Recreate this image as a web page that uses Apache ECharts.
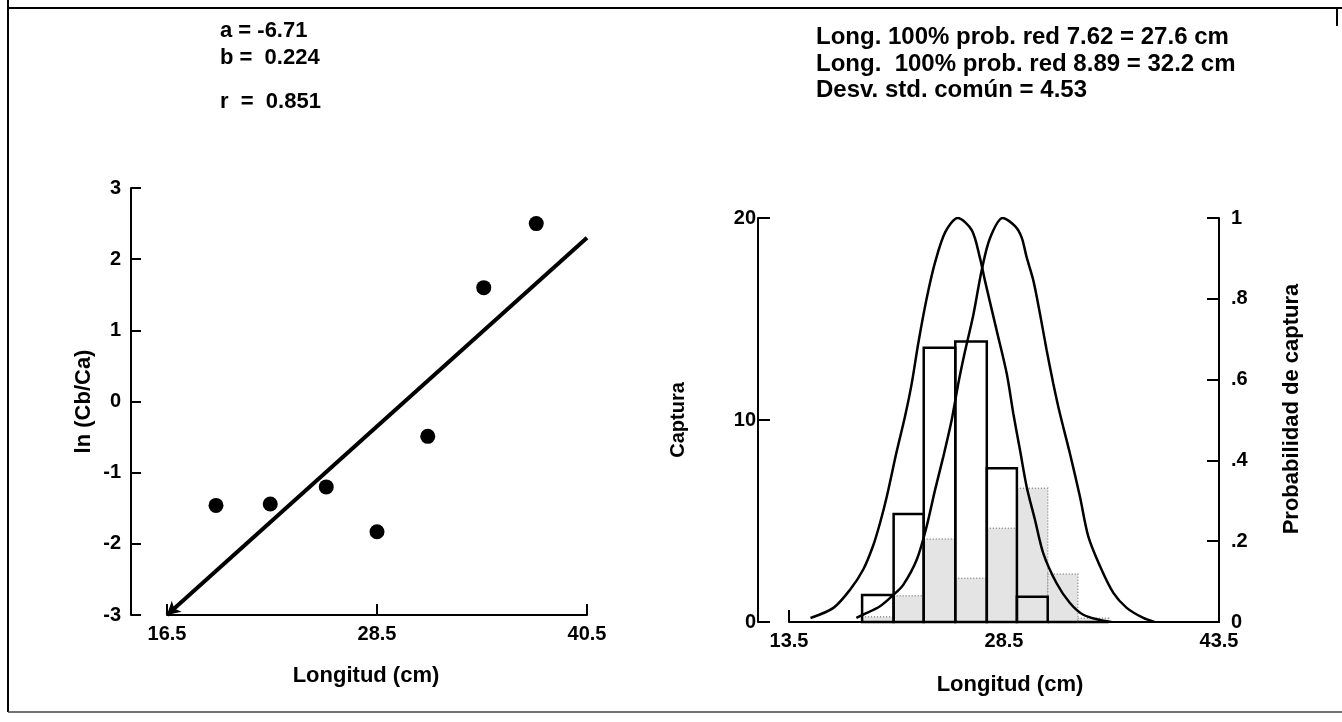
<!DOCTYPE html>
<html>
<head>
<meta charset="utf-8">
<script src="https://cdn.jsdelivr.net/npm/echarts@6.0.0/dist/echarts.min.js"></script>
<style>
  html, body { margin: 0; padding: 0; background: #fff; }
  #chart { width: 1342px; height: 722px; }
</style>
</head>
<body>
<div id="chart"></div>
<script>
// ---- datos panel izquierdo: ln(Cb/Ca) vs longitud ----
var lnLong = [19.3, 22.4, 25.6, 28.5, 31.4, 34.6, 37.6];
var lnRatio = [-1.46, -1.44, -1.2, -1.83, -0.49, 1.6, 2.5];
// recta ajustada, extremos
var fitLong = [16.5, 40.5];
var fitRatio = [-3.0, 2.3];
var leftTicks = [16.5, 28.5, 40.5];

// ---- datos panel derecho: captura por clase de talla ----
var binEdges = [18.6, 20.8, 22.9, 25.1, 27.3, 29.4, 31.55, 33.65, 35.8];
var catch762 = [1.34, 5.35, 13.58, 13.88, 7.61, 1.25, 0, 0];
var catch889 = [0.26, 1.3, 4.11, 2.16, 4.64, 6.62, 2.38, 0.18];
var rightTicks = [13.5, 28.5, 43.5];

// curvas de selectividad (probabilidad de captura)
var sel762x = [15.0, 16.6, 17.76, 18.68, 19.38, 19.85, 20.32, 21.0, 21.6, 22.06, 22.52, 23.1, 23.69, 24.4, 25.27,
               26.25, 26.83, 27.17, 28.0, 28.69, 29.15, 29.62, 30.08, 30.66, 31.24, 32.17, 33.1, 34.03, 35.2, 36.0];
var sel762y = [0.01, 0.035, 0.08, 0.13, 0.19, 0.245, 0.31, 0.42, 0.51, 0.59, 0.69, 0.8, 0.89, 0.965, 1.0,
               0.97, 0.9, 0.845, 0.72, 0.615, 0.516, 0.425, 0.335, 0.253, 0.17, 0.096, 0.047, 0.018, 0.005, 0];
var sel889x = [18.2, 18.68, 19.85, 20.78, 21.47, 22.41, 23.1, 23.69, 24.27, 24.85, 25.31, 25.78, 26.36, 26.94, 27.52, 28.41,
               29.27, 29.73, 30.08, 30.55, 31.01, 31.48, 31.94, 32.4, 33.1, 33.8, 34.38, 35.2, 36.13, 37.06, 38.22, 39.0];
var sel889y = [0.01, 0.018, 0.039, 0.067, 0.092, 0.154, 0.236, 0.327, 0.41, 0.5, 0.59, 0.67, 0.76, 0.87, 0.95, 1.0,
               0.98, 0.952, 0.903, 0.845, 0.763, 0.672, 0.59, 0.516, 0.417, 0.31, 0.212, 0.138, 0.072, 0.035, 0.01, 0];

function zip(a, b) {
    var out = [];
    for (var i = 0; i < a.length; i++) out.push([a[i], b[i]]);
    return out;
}

function binData(counts) {
    var out = [];
    for (var i = 0; i < counts.length; i++) {
        out.push([binEdges[i], binEdges[i + 1], counts[i]]);
    }
    return out;
}

var FONT = 'Liberation Sans';
var txt = { fontFamily: FONT, fontWeight: 'bold', fontSize: 20, color: '#000' };
var nameTxt = { fontFamily: FONT, fontWeight: 'bold', fontSize: 22, color: '#000' };
var axLine = { onZero: false, lineStyle: { color: '#000', width: 2 } };

function histItem(style) {
    return function (params, api) {
        var p0 = api.coord([api.value(0), 0]);
        var p1 = api.coord([api.value(1), api.value(2)]);
        return {
            type: 'rect',
            shape: { x: p0[0], y: p1[1], width: p1[0] - p0[0], height: p0[1] - p1[1] },
            style: style
        };
    };
}

var myChart = echarts.init(document.getElementById('chart'), null, { renderer: 'canvas' });

myChart.setOption({
    backgroundColor: '#fff',
    animation: false,
    grid: [
        { left: 167, top: 188, width: 420, height: 427 },
        { left: 789, top: 218, width: 430, height: 404 }
    ],
    xAxis: [
        {
            gridIndex: 0, type: 'value', min: 16.5, max: 40.5,
            name: 'Longitud (cm)', nameLocation: 'middle', nameGap: 50,
            nameTextStyle: Object.assign({ padding: [0, 22, 0, 0] }, nameTxt),
            axisLine: axLine,
            axisTick: { inside: true, length: 11, lineStyle: { width: 2 }, customValues: leftTicks },
            axisLabel: Object.assign({ margin: 9, customValues: leftTicks }, txt),
            splitLine: { show: false }
        },
        {
            gridIndex: 1, type: 'value', min: 13.5, max: 43.5,
            name: 'Longitud (cm)', nameLocation: 'middle', nameGap: 52,
            nameTextStyle: Object.assign({ padding: [0, 0, 0, 12] }, nameTxt),
            axisLine: axLine,
            axisTick: { inside: true, length: 12, lineStyle: { width: 2 }, customValues: rightTicks },
            axisLabel: Object.assign({ margin: 9, customValues: rightTicks }, txt),
            splitLine: { show: false }
        }
    ],
    yAxis: [
        {
            gridIndex: 0, type: 'value', min: -3, max: 3, interval: 1, offset: 36,
            name: 'ln (Cb/Ca)', nameLocation: 'middle', nameGap: 36, nameRotate: 90,
            nameTextStyle: nameTxt,
            axisLine: { show: true, onZero: false, lineStyle: { color: '#000', width: 2 } },
            axisTick: { show: true, inside: true, length: 10, lineStyle: { width: 2 } },
            axisLabel: Object.assign({ margin: 10 }, txt),
            splitLine: { show: false }
        },
        {
            gridIndex: 1, type: 'value', min: 0, max: 20, interval: 10, offset: 31,
            name: 'Captura', nameLocation: 'middle', nameGap: 70, nameRotate: 90,
            nameTextStyle: txt,
            axisLine: { show: true, onZero: false, lineStyle: { color: '#000', width: 2 } },
            axisTick: { show: true, inside: true, length: 12, lineStyle: { width: 2 } },
            axisLabel: Object.assign({ margin: 2 }, txt),
            splitLine: { show: false }
        },
        {
            gridIndex: 1, type: 'value', position: 'right', min: 0, max: 1, interval: 0.2,
            name: 'Probabilidad de captura', nameLocation: 'middle', nameGap: 62, nameRotate: 90,
            nameTextStyle: Object.assign({ padding: [0, 0, 0, 22] }, nameTxt),
            axisLine: { show: true, onZero: false, lineStyle: { color: '#000', width: 2 } },
            axisTick: { show: true, inside: true, length: 12, lineStyle: { width: 2 } },
            axisLabel: Object.assign({
                margin: 12,
                formatter: function (v) {
                    if (v === 0 || v === 1) return String(v);
                    return String(+v.toFixed(1)).replace(/^0/, '');
                }
            }, txt),
            splitLine: { show: false }
        }
    ],
    graphic: [
        { type: 'line', shape: { x1: 8, y1: 8, x2: 1342, y2: 8 }, style: { stroke: '#000', lineWidth: 2 } },
        { type: 'line', shape: { x1: 8, y1: 0, x2: 8, y2: 712 }, style: { stroke: '#000', lineWidth: 2 } },
        { type: 'line', shape: { x1: 8, y1: 712, x2: 1342, y2: 712 }, style: { stroke: '#444', lineWidth: 1.5 } },
        { type: 'line', shape: { x1: 1337, y1: 8, x2: 1337, y2: 26 }, style: { stroke: '#000', lineWidth: 2 } },
        { type: 'text', left: 220, top: 20, style: { text: 'a = -6.71', font: 'bold 22px "Liberation Sans"', fill: '#000' } },
        { type: 'text', left: 220, top: 47, style: { text: 'b =  0.224', font: 'bold 22px "Liberation Sans"', fill: '#000' } },
        { type: 'text', left: 220, top: 91, style: { text: 'r  =  0.851', font: 'bold 22px "Liberation Sans"', fill: '#000' } },
        { type: 'text', left: 816, top: 25, style: { text: 'Long. 100% prob. red 7.62 = 27.6 cm', font: 'bold 24px "Liberation Sans"', fill: '#000' } },
        { type: 'text', left: 816, top: 52, style: { text: 'Long.  100% prob. red 8.89 = 32.2 cm', font: 'bold 24px "Liberation Sans"', fill: '#000' } },
        { type: 'text', left: 816, top: 78, style: { text: 'Desv. std. común = 4.53', font: 'bold 24px "Liberation Sans"', fill: '#000' } }
    ],
    series: [
        {
            name: 'ajuste', type: 'line', xAxisIndex: 0, yAxisIndex: 0,
            data: [
                { value: [fitLong[0], fitRatio[0]], symbol: 'arrow', symbolSize: [11, 13], symbolRotate: 132 },
                { value: [fitLong[1], fitRatio[1]], symbol: 'none' }
            ],
            lineStyle: { color: '#000', width: 4 },
            itemStyle: { color: '#000' },
            z: 3
        },
        {
            name: 'ln(Cb/Ca)', type: 'scatter', xAxisIndex: 0, yAxisIndex: 0,
            data: zip(lnLong, lnRatio),
            symbol: 'circle', symbolSize: 15,
            itemStyle: { color: '#000', opacity: 1 },
            z: 4
        },
        {
            name: 'red 8.89', type: 'custom', xAxisIndex: 1, yAxisIndex: 1,
            data: binData(catch889),
            encode: { x: [0, 1], y: 2 },
            renderItem: histItem({ fill: '#e4e4e4', stroke: '#8a8a8a', lineWidth: 1.5, lineDash: [1, 2] }),
            z: 2
        },
        {
            name: 'red 7.62', type: 'custom', xAxisIndex: 1, yAxisIndex: 1,
            data: binData(catch762),
            encode: { x: [0, 1], y: 2 },
            renderItem: histItem({ fill: 'none', stroke: '#000', lineWidth: 2.5 }),
            z: 3
        },
        {
            name: 'sel 7.62', type: 'line', xAxisIndex: 1, yAxisIndex: 2,
            data: zip(sel762x, sel762y),
            smooth: 0.3, showSymbol: false,
            lineStyle: { color: '#000', width: 2.5 },
            z: 4
        },
        {
            name: 'sel 8.89', type: 'line', xAxisIndex: 1, yAxisIndex: 2,
            data: zip(sel889x, sel889y),
            smooth: 0.3, showSymbol: false,
            lineStyle: { color: '#000', width: 2.5 },
            z: 4
        }
    ]
});
</script>
</body>
</html>
